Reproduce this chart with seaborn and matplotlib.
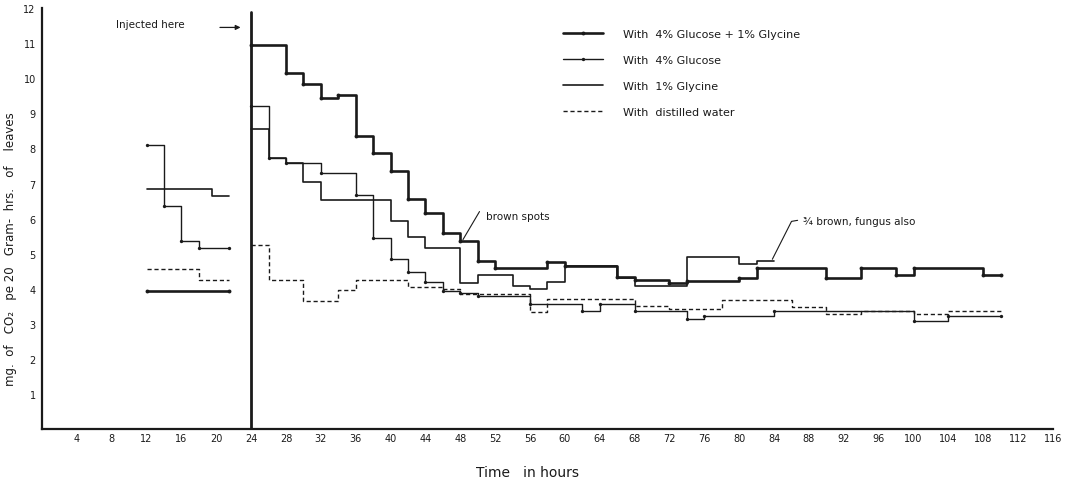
import numpy as np
import pandas as pd
import matplotlib
matplotlib.use("Agg")
import matplotlib.pyplot as plt
import seaborn as sns

# ---------------- data (hours, mg CO2) ----------------
# step edges (t) and step values (v); last t is where the step ends
pre_gg_t = [12, 21.5]
pre_gg_v = [3.93]
pre_glu_t = [12, 14, 16, 18, 21.5]
pre_glu_v = [8.1, 6.35, 5.35, 5.15]
pre_gly_t = [12, 19.5, 21.5]
pre_gly_v = [6.83, 6.63]
pre_wat_t = [12, 18, 21.5]
pre_wat_v = [4.55, 4.25]

gg_t = [24, 28, 30, 32, 34, 36, 38, 40, 42, 44, 46, 48, 50, 52, 58, 60, 66, 68,
        72, 74, 80, 82, 90, 94, 98, 100, 108, 110]
gg_v = [10.94, 10.14, 9.83, 9.43, 9.52, 8.35, 7.86, 7.35, 6.55, 6.17, 5.58, 5.37,
        4.79, 4.58, 4.76, 4.64, 4.33, 4.25, 4.15, 4.22, 4.3, 4.6, 4.3, 4.6, 4.39,
        4.6, 4.38]

glu_t = [24, 26, 28, 32, 36, 38, 40, 42, 44, 46, 48, 50, 56, 62, 64, 68, 74, 76,
         84, 100, 104, 110]
glu_v = [9.22, 7.72, 7.58, 7.29, 6.67, 5.44, 4.84, 4.47, 4.19, 3.93, 3.87, 3.79,
         3.56, 3.37, 3.56, 3.37, 3.13, 3.22, 3.37, 3.08, 3.22]

gly_t = [24, 26, 28, 30, 32, 40, 42, 44, 48, 50, 54, 56, 58, 60, 66, 68, 74, 80,
         82, 84]
gly_v = [8.55, 7.72, 7.58, 7.04, 6.52, 5.93, 5.47, 5.16, 4.16, 4.39, 4.07, 3.99,
         4.19, 4.66, 4.3, 4.07, 4.9, 4.7, 4.79]

wat_t = [24, 26, 30, 34, 36, 42, 46, 48, 56, 58, 68, 72, 78, 86, 90, 94, 100,
         104, 110]
wat_v = [5.25, 4.25, 3.64, 3.95, 4.25, 4.05, 3.99, 3.85, 3.33, 3.7, 3.5, 3.42,
         3.68, 3.47, 3.28, 3.37, 3.27, 3.37]

labels = ["With  4% Glucose + 1% Glycine", "With  4% Glucose",
          "With  1% Glycine", "With  distilled water"]
x_ticks = list(range(4, 117, 4))
x_ticklabels = [str(t) for t in x_ticks]
y_ticks = list(range(1, 13))

# ---------------- styling ----------------
sns.set_theme(style="white")
plt.rcParams["font.family"] = ["DejaVu Sans"]
ink = "#1a1a1a"

styles = {
    labels[0]: dict(lw=1.9, ls="-", marker="o", ms=2.8),
    labels[1]: dict(lw=1.0, ls="-", marker="o", ms=2.4),
    labels[2]: dict(lw=1.2, ls="-", marker=None, ms=0),
    labels[3]: dict(lw=1.0, ls=(0, (3, 2)), marker=None, ms=0),
}


def step_frame(t, v):
    return pd.DataFrame({"t": t, "v": list(v) + [v[-1]]})


fig = plt.figure(figsize=(10.69, 4.81), dpi=100)
ax = fig.add_axes([0.0393, 0.106, 0.9457, 0.875])

series = [
    (labels[0], pre_gg_t, pre_gg_v, gg_t, gg_v),
    (labels[1], pre_glu_t, pre_glu_v, glu_t, glu_v),
    (labels[2], pre_gly_t, pre_gly_v, gly_t, gly_v),
    (labels[3], pre_wat_t, pre_wat_v, wat_t, wat_v),
]

for name, pt, pv, t, v in series:
    st = styles[name]
    for i, (tt, vv) in enumerate([(pt, pv), (t, v)]):
        df = step_frame(tt, vv)
        sns.lineplot(data=df, x="t", y="v", ax=ax, estimator=None, sort=False,
                     drawstyle="steps-post", color=ink, linewidth=st["lw"],
                     linestyle=st["ls"], marker=st["marker"] if st["marker"] else "",
                     markersize=st["ms"], markeredgewidth=0, legend=False)

handles = []
for name in labels:
    st = styles[name]
    handles.append(plt.Line2D([0, 0.5, 1], [0, 0, 0], color=ink, lw=st["lw"],
                              ls=st["ls"],
                              marker=st["marker"] if st["marker"] else "",
                              ms=st["ms"], markevery=[1], mew=0))

# injection line
ax.axvline(24, ymin=0, ymax=0.99, color=ink, lw=2.0)
ax.text(8.5, 11.55, "Injected here", fontsize=7.5, color=ink, va="center")
ax.annotate("", xy=(23.1, 11.45), xytext=(20.1, 11.45),
            arrowprops=dict(arrowstyle="-|>", color=ink, lw=0.9,
                            mutation_scale=7))

# notes
ax.text(51, 6.07, "brown spots", fontsize=7.5, color=ink, va="center")
ax.plot([50.2, 48.3], [6.2, 5.4], color=ink, lw=0.8)
ax.text(87.3, 5.93, "¾ brown, fungus also", fontsize=7.5, color=ink,
        va="center")
ax.plot([86.7, 86.0, 83.8], [5.95, 5.92, 4.84], color=ink, lw=0.8)

# axes
ax.set_xlim(0, 116)
ax.set_ylim(0, 12)
ax.set_xticks(x_ticks)
ax.set_xticklabels(x_ticklabels, fontsize=7)
ax.set_yticks(y_ticks)
ax.set_yticklabels([str(y) for y in y_ticks], fontsize=7)
ax.tick_params(axis="x", direction="in", length=5, width=0.9, colors=ink, pad=3)
ax.tick_params(axis="y", direction="inout", length=5, width=0.9, colors=ink, pad=2)
sns.despine(ax=ax)
for s in ["left", "bottom"]:
    ax.spines[s].set_color(ink)
    ax.spines[s].set_linewidth(1.6)

ax.set_xlabel("Time   in hours", fontsize=10, color=ink)
ax.xaxis.set_label_coords(0.48, -0.085)
ax.set_ylabel("mg.  of   CO₂   pe 20   Gram-  hrs.   of    leaves", fontsize=8.5,
              color=ink)
ax.yaxis.set_label_coords(-0.025, 0.43)

leg = ax.legend(handles, labels, loc="upper left", bbox_to_anchor=(0.505, 0.975),
                frameon=False, fontsize=8, handlelength=3.6, handletextpad=1.8,
                labelspacing=1.45)
for txt in leg.get_texts():
    txt.set_color(ink)

fig.savefig("out.png", dpi=100)
